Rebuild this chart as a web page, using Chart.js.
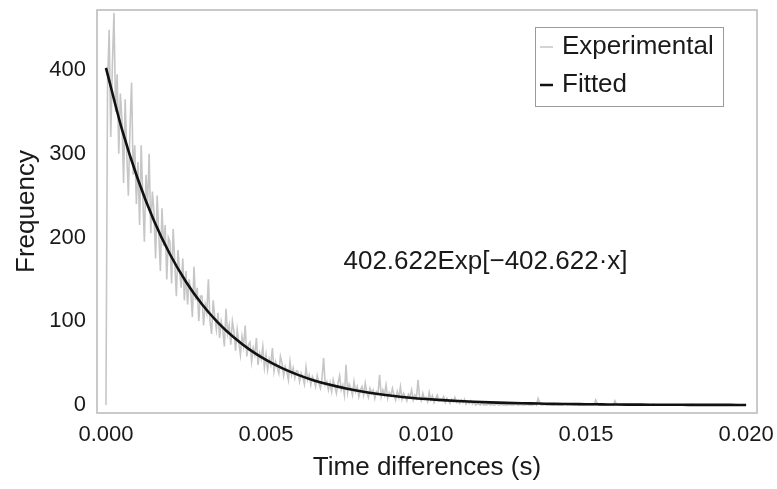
<!DOCTYPE html>
<html>
<head>
<meta charset="utf-8">
<script src="https://cdn.jsdelivr.net/npm/chart.js@4.4.0/dist/chart.umd.min.js"></script>
<style>
  html,body{margin:0;padding:0;background:#fff;}
  #wrap{width:777px;height:489px;position:relative;}
</style>
</head>
<body>
<div id="wrap"><canvas id="c"></canvas></div>
<script>
/* Exponential fit of time-difference histogram */

// histogram bins (bin width 0.00005 s), counts
const BIN_WIDTH = 0.00005;
const COUNTS = [
  0, 385, 448, 320, 405, 468, 350, 395, 300, 372,
  340, 265, 365, 300, 250, 330, 385, 275, 310, 240,
  290, 215, 310, 250, 195, 275, 240, 300, 205, 255,
  230, 175, 250, 205, 160, 235, 190, 215, 150, 200,
  195, 145, 210, 170, 130, 185, 160, 140, 175, 125,
  160, 120, 150, 135, 105, 165, 125, 140, 100, 130,
  130, 95, 120, 110, 150, 100, 85, 125, 105, 90,
  110, 80, 100, 90, 70, 115, 85, 95, 72, 100,
  88, 65, 90, 75, 60, 82, 70, 95, 58, 72,
  75, 52, 68, 60, 80, 48, 62, 55, 70, 45,
  60, 42, 55, 48, 68, 40, 52, 45, 38, 58,
  50, 35, 46, 40, 30, 52, 36, 44, 32, 41,
  40, 28, 38, 33, 25, 45, 30, 36, 24, 34,
  30, 22, 35, 26, 20, 32, 56, 24, 28, 18,
  27, 16, 30, 22, 14, 26, 35, 18, 24, 12,
  48, 15, 25, 20, 12, 28, 16, 22, 10, 18,
  22, 12, 26, 15, 9, 20, 14, 18, 8, 16,
  14, 36, 10, 18, 12, 24, 8, 15, 11, 20,
  12, 6, 16, 9, 22, 7, 14, 10, 5, 13,
  10, 18, 6, 12, 8, 30, 9, 5, 14, 7,
  9, 4, 15, 6, 11, 3, 8, 12, 5, 7,
  6, 10, 3, 8, 5, 2, 7, 4, 9, 3,
  5, 2, 6, 3, 7, 1, 4, 2, 5, 1,
  3, 0, 2, 1, 0, 3, 0, 1, 0, 2,
  0, 1, 0, 0, 2, 0, 0, 1, 0, 0,
  0, 0, 1, 0, 0, 0, 2, 0, 0, 1,
  0, 0, 0, 1, 0, 0, 0, 0, 2, 0,
  8, 3, 0, 0, 1, 0, 0, 0, 0, 0,
  0, 1, 0, 0, 0, 0, 0, 2, 0, 0,
  0, 0, 0, 0, 1, 0, 0, 0, 0, 0,
  0, 0, 0, 0, 0, 0, 6, 2, 0, 0,
  0, 0, 0, 0, 0, 0, 0, 0, 5, 1,
  0, 0, 0, 0, 1, 0, 0, 0, 0, 0,
  0, 0, 0, 0, 0, 0, 0, 0, 0, 0,
  0, 0, 1, 0, 0, 0, 0, 0, 0, 0,
  0, 0, 0, 0, 0, 0, 0, 0, 0, 0,
  0, 0, 0, 0, 0, 0, 1, 0, 0, 0,
  0, 0, 0, 0, 0, 0, 0, 0, 0, 0,
  0, 0, 0, 0, 0, 0, 0, 0, 0, 0,
  0, 0, 0, 0, 0, 0, 0, 0, 0, 0,
  1
];

// fitted curve, sampled every 0.0005 s
const FIT_STEP = 0.0005;
const FIT = [
  402.6, 329.2, 269.2, 220.1, 180.0, 147.2, 120.3, 98.4, 80.5, 65.8,
  53.8, 44.0, 36.0, 29.4, 24.1, 19.7, 16.1, 13.2, 10.8, 8.8,
  7.2, 5.9, 4.8, 3.9, 3.2, 2.6, 2.1, 1.8, 1.4, 1.2,
  1.0, 0.8, 0.6, 0.5, 0.4, 0.35, 0.3, 0.2, 0.2, 0.15,
  0.1
];

const X_TICKS = [0, 0.005, 0.010, 0.015, 0.020];
const Y_TICKS = [0, 100, 200, 300, 400];
const SERIES = ['Experimental', 'Fitted'];
const EQUATION = '402.622Exp[\u2212402.622\u00b7x]';

const GRAY = '#c6c6c6', INK = '#111', FRAME = '#b8b8b8';
const FONT = '"Liberation Sans", Arial, Helvetica, sans-serif';

const expPts = COUNTS.map((v, i) => ({x: i * BIN_WIDTH, y: v}));
const fitPts = FIT.map((v, i) => ({x: i * FIT_STEP, y: v}));

const decor = {
  id: 'decor',
  afterDraw(chart) {
    const {ctx, chartArea: a, scales} = chart;
    ctx.save();
    // frame
    ctx.strokeStyle = FRAME; ctx.lineWidth = 1.5;
    ctx.strokeRect(a.left, a.top, a.right - a.left, a.bottom - a.top);
    // equation
    ctx.fillStyle = '#1a1a1a';
    ctx.font = '26px ' + FONT;
    ctx.textBaseline = 'middle'; ctx.textAlign = 'left';
    ctx.fillText(EQUATION, scales.x.getPixelForValue(0.00742), scales.y.getPixelForValue(171));
    // legend
    const bx = a.right - 222, by = a.top + 17, bw = 188, bh = 79;
    ctx.fillStyle = '#fff'; ctx.fillRect(bx, by, bw, bh);
    ctx.strokeStyle = '#9a9a9a'; ctx.lineWidth = 1;
    ctx.strokeRect(bx + 0.5, by + 0.5, bw, bh);
    const rows = [{c: GRAY, w: 1.5}, {c: INK, w: 2.5}];
    rows.forEach((r, i) => {
      const y = by + 20 + i * 38;
      ctx.strokeStyle = r.c; ctx.lineWidth = r.w;
      ctx.beginPath(); ctx.moveTo(bx + 5, y); ctx.lineTo(bx + 18, y); ctx.stroke();
      ctx.fillStyle = '#1a1a1a';
      ctx.fillText(SERIES[i], bx + 27, y);
    });
    ctx.restore();
  }
};

new Chart(document.getElementById('c'), {
  type: 'line',
  data: {datasets: [
    {label: SERIES[0], data: expPts, borderColor: GRAY, borderWidth: 1.6, pointRadius: 0, tension: 0, order: 2},
    {label: SERIES[1], data: fitPts, borderColor: INK, borderWidth: 2.6, pointRadius: 0, cubicInterpolationMode: 'monotone', order: 1}
  ]},
  options: {
    responsive: true, maintainAspectRatio: false, animation: false,
    layout: {padding: {left: 0, top: 10, right: 20, bottom: 0}},
    plugins: {legend: {display: false}, tooltip: {enabled: false}},
    scales: {
      x: {
        type: 'linear', min: -0.00028, max: 0.02034,
        afterBuildTicks: s => { s.ticks = X_TICKS.map(v => ({value: v})); },
        afterFit: s => { s.height = 76; s.paddingLeft = 0; s.paddingRight = 0; },
        grid: {display: false, drawTicks: false}, border: {display: false},
        ticks: {padding: 9, color: '#1a1a1a', font: {family: FONT, size: 22}, callback: v => v.toFixed(3)},
        title: {display: true, text: 'Time differences (s)', color: '#1a1a1a', font: {family: FONT, size: 26}, padding: {top: 0, bottom: 6}}
      },
      y: {
        min: -9.5, max: 471.6,
        afterBuildTicks: s => { s.ticks = Y_TICKS.map(v => ({value: v})); },
        afterFit: s => { s.width = 97; s.paddingTop = 0; s.paddingBottom = 0; },
        grid: {display: false, drawTicks: false}, border: {display: false},
        ticks: {padding: 11, color: '#1a1a1a', font: {family: FONT, size: 22}},
        title: {display: true, text: 'Frequency', color: '#1a1a1a', font: {family: FONT, size: 26}, padding: {top: 11, bottom: 0}}
      }
    }
  },
  plugins: [decor]
});
</script>
</body>
</html>
